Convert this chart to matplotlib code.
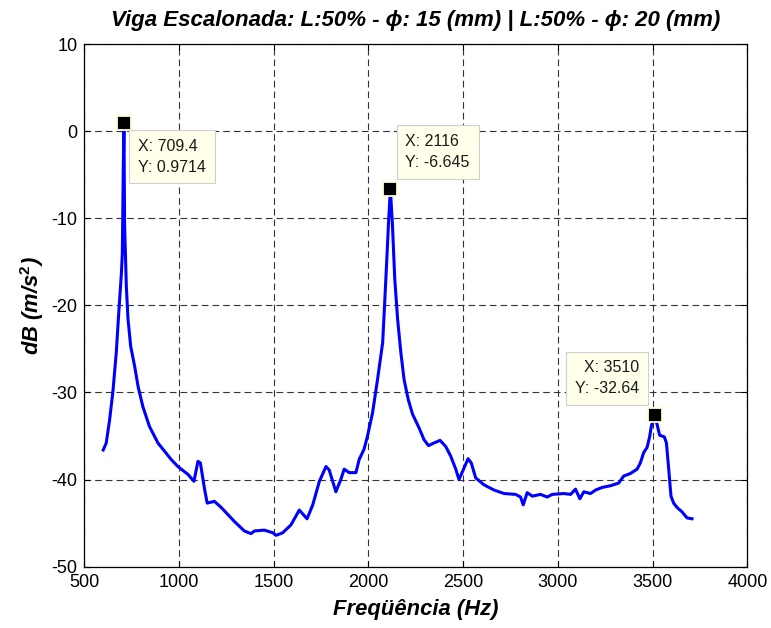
import matplotlib
matplotlib.use("Agg")
import matplotlib.pyplot as plt

# Frequency response of the stepped beam
freq = [600, 616, 634, 652, 669, 681, 696, 701, 706, 709.4, 713, 722, 731, 745,
        766, 784, 809, 844, 889, 959, 994, 1047, 1079, 1100, 1113, 1135, 1149,
        1187, 1223, 1292, 1345, 1380, 1398, 1450, 1495, 1512, 1548, 1591, 1635,
        1676, 1706, 1741, 1776, 1793, 1828, 1854, 1872, 1898, 1934, 1951, 1977,
        1995, 2022, 2048, 2075, 2083, 2097, 2106, 2116, 2127, 2139, 2154, 2171,
        2188, 2210, 2233, 2268, 2293, 2317, 2346, 2378, 2408, 2434, 2461, 2478,
        2502, 2526, 2543, 2566, 2610, 2663, 2716, 2777, 2803, 2817, 2838, 2865,
        2908, 2944, 2970, 3032, 3067, 3093, 3116, 3137, 3172, 3199, 3234, 3278,
        3321, 3347, 3383, 3418, 3435, 3453, 3471, 3485, 3493, 3510, 3524, 3537,
        3562, 3573, 3585, 3597, 3611, 3629, 3655, 3682, 3708]
db = [-36.6, -35.8, -33.1, -29.7, -25.4, -21.2, -16.3, -14.0, -4.0, 0.9714,
      -10.9, -17.8, -21.6, -24.7, -27.0, -29.3, -31.6, -33.9, -35.8, -37.7,
      -38.5, -39.4, -40.2, -37.9, -38.1, -41.1, -42.7, -42.5, -43.2, -44.8,
      -45.9, -46.2, -45.9, -45.8, -46.1, -46.4, -46.1, -45.2, -43.5, -44.5,
      -42.9, -40.2, -38.5, -38.9, -41.4, -40.0, -38.8, -39.2, -39.2, -37.7,
      -36.5, -35.0, -32.3, -28.5, -24.3, -20.9, -14.7, -10.5, -6.645, -10.9,
      -17.0, -21.6, -25.4, -28.5, -30.8, -32.5, -34.1, -35.4, -36.1, -35.8,
      -35.5, -36.2, -37.3, -38.8, -40.0, -38.8, -37.6, -38.1, -39.8, -40.6,
      -41.2, -41.6, -41.7, -42.0, -42.9, -41.5, -41.9, -41.7, -42.0, -41.7,
      -41.6, -41.7, -41.1, -42.2, -41.4, -41.6, -41.2, -40.9, -40.7, -40.4,
      -39.6, -39.3, -38.8, -38.1, -36.9, -36.3, -35.0, -33.9, -32.64, -33.7,
      -34.9, -35.1, -35.8, -38.8, -41.9, -42.7, -43.2, -43.7, -44.4, -44.5]

# Data tips on the three resonance peaks
peak_freq = [709.4, 2116, 3510]
peak_db = [0.9714, -6.645, -32.64]

x_ticks = [500, 1000, 1500, 2000, 2500, 3000, 3500, 4000]
y_ticks = [-50, -40, -30, -20, -10, 0, 10]

plt.rcParams['font.family'] = ['Liberation Sans', 'DejaVu Sans']
plt.rcParams['axes.unicode_minus'] = False
plt.rcParams['mathtext.fontset'] = 'custom'
plt.rcParams['mathtext.bf'] = 'Liberation Sans:bold'
plt.rcParams['mathtext.it'] = 'Liberation Sans:italic:bold'
plt.rcParams['mathtext.rm'] = 'Liberation Sans'

fig = plt.figure(figsize=(7.71, 6.28), dpi=100)
ax = fig.add_axes([0.1093, 0.0976, 0.860, 0.8323])

ax.plot(freq, db, color='#0000FF', lw=2.2, zorder=3)

ax.set_xlim(500, 4000)
ax.set_ylim(-50, 10)
ax.set_xticks(x_ticks)
ax.set_yticks(y_ticks)
ax.tick_params(direction='in', length=4, width=0.8, labelsize=13, pad=5,
               top=True, right=True)
ax.grid(True, color='#333333', lw=0.8, linestyle=(0, (6, 3.6)))
for s in ax.spines.values():
    s.set_linewidth(0.9)
    s.set_color('black')

ax.set_title('Viga Escalonada: L:50% - \u03d5: 15 (mm) | L:50% - \u03d5: 20 (mm)',
             fontsize=16, fontweight='bold', fontstyle='italic', pad=13,
             family=['Liberation Sans', 'DejaVu Sans'])
ax.set_xlabel('Freqüência (Hz)', fontsize=15.8, fontweight='bold',
              fontstyle='italic', labelpad=6)
ax.set_ylabel('dB (m/s$^{\\mathbf{2}}$)', fontsize=15.8, fontweight='bold',
              fontstyle='italic', labelpad=4)

# marker + label placement for each data tip (offsets in pixels)
offsets = [(14, -16, 'left', 'top'), (15, 55, 'left', 'top'),
           (-15, 55, 'right', 'top')]
for (px, py), (dx, dy, ha, va) in zip(zip(peak_freq, peak_db), offsets):
    ax.plot([px], [py], marker='s', ms=9.5, mfc='black', mec='#FFFFD0',
            mew=1.3, zorder=5, clip_on=False)
    ax.annotate(f'X: {px:g}\nY: {py:.4g}', xy=(px, py), xytext=(dx, dy),
                textcoords='offset pixels', ha=ha, va=va, multialignment=ha,
                fontsize=11.5, linespacing=1.5, color='#1a1a1a', zorder=6,
                bbox=dict(boxstyle='square,pad=0.55', fc='#FFFFEA',
                          ec='#CFCFCF', lw=0.8))

fig.savefig('out.png', dpi=100, facecolor='white')
